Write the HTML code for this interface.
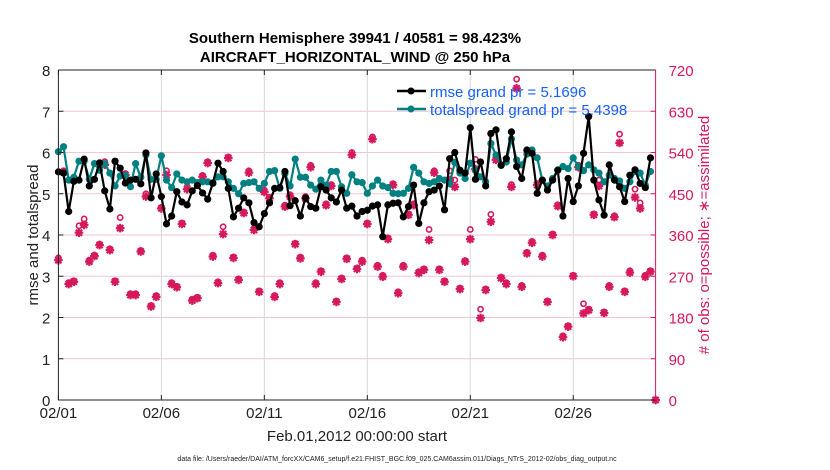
<!DOCTYPE html>
<html><head><meta charset="utf-8">
<style>
html,body{margin:0;padding:0;background:#fff;}
svg{display:block;font-family:"Liberation Sans",sans-serif;}
</style></head>
<body>
<svg id="chart" width="830" height="470" viewBox="0 0 830 470" xmlns="http://www.w3.org/2000/svg">
  <rect x="0" y="0" width="830" height="470" fill="#fff"/>
  <text x="355" y="43" text-anchor="middle" font-size="15" font-weight="bold">Southern Hemisphere 39941 / 40581 = 98.423%</text>
  <text x="355" y="62" text-anchor="middle" font-size="15" font-weight="bold">AIRCRAFT_HORIZONTAL_WIND @ 250 hPa</text>
  <g id="grid"></g>
  <g id="obs"></g>
  <g id="lines"></g>
  <g id="axes"></g>
  <text transform="translate(38,235) rotate(-90)" text-anchor="middle" font-size="15" fill="#222">rmse and totalspread</text>
  <text transform="translate(709,235) rotate(-90)" text-anchor="middle" font-size="15" fill="#d6185c"># of obs: o=possible; ∗=assimilated</text>
  <text x="357" y="441" text-anchor="middle" font-size="15" fill="#222">Feb.01,2012 00:00:00 start</text>
  <text x="397" y="461" text-anchor="middle" font-size="7" fill="#222">data file: /Users/raeder/DAI/ATM_forcXX/CAM6_setup/f.e21.FHIST_BGC.f09_025.CAM6assim.011/Diags_NTrS_2012-02/obs_diag_output.nc</text>
  <g>
    <line x1="397" y1="91" x2="426" y2="91" stroke="#000" stroke-width="2.5"/>
    <circle cx="411" cy="91" r="3.5" fill="#000"/>
    <text x="430" y="97" font-size="15" fill="#1560ff">rmse grand pr = 5.1696</text>
    <line x1="397" y1="109" x2="426" y2="109" stroke="#008080" stroke-width="2.5"/>
    <circle cx="411" cy="109" r="3.5" fill="#008080"/>
    <text x="430" y="115" font-size="15" fill="#1560ff">totalspread grand pr = 5.4398</text>
  </g>
</svg>
<script>
const rmse = [5.53,5.5,4.57,5.3,5.33,5.84,5.19,5.35,5.75,5.07,4.63,5.79,5.62,5.26,5.33,5.35,5.24,5.99,4.9,5.48,4.93,4.27,4.46,5.05,4.8,4.73,5.07,5.2,5.02,4.87,5.26,
5.74,5.54,5.13,4.44,4.65,4.9,4.78,4.3,4.2,4.52,4.78,5.13,5.15,5.54,4.71,4.83,4.46,4.9,4.69,4.65,5.17,5.09,4.9,4.8,5.09,4.65,4.7,4.46,4.57,
4.6,4.7,4.73,3.96,4.73,4.77,4.78,4.44,4.69,5.21,4.28,4.78,5.05,5.09,5.19,4.61,5.85,6.0,5.57,5.5,6.6,5.35,5.77,5.19,6.46,6.55,5.69,5.85,6.5,
5.66,5.37,6.06,5.98,5.01,5.33,5.09,5.33,5.57,4.46,5.37,4.81,5.19,5.98,6.87,5.33,4.85,4.48,5.7,5.33,5.17,4.81,5.45,5.58,5.25,5.15,5.87];
const spread = [6.02,6.14,5.33,5.4,5.79,5.79,5.35,5.73,5.57,5.73,5.5,5.19,5.43,5.45,5.17,5.73,5.4,5.94,5.35,5.35,5.92,5.33,5.15,5.48,5.33,5.29,5.33,5.27,5.29,5.29,5.25,
5.41,5.41,5.29,5.13,5.0,5.25,5.27,5.29,5.13,5.25,5.54,5.56,5.13,5.49,5.19,5.84,5.4,5.4,5.21,5.11,5.33,5.21,5.54,5.54,5.17,5.01,5.46,5.29,5.27,
5.01,5.19,5.33,5.19,5.15,5.01,5.0,5.01,5.13,5.64,5.5,5.29,5.25,5.29,5.37,5.33,5.24,5.76,5.5,5.37,5.74,5.57,5.41,5.29,6.22,5.94,5.69,5.77,6.33,
5.82,5.7,5.96,6.06,5.87,5.33,5.19,5.37,5.58,5.66,5.61,5.87,5.66,5.56,5.7,5.58,5.5,5.29,5.45,5.37,5.31,5.13,5.29,5.54,5.5,5.21,5.54];
const assimilated = [305,497,253,258,365,382,302,314,338,513,327,258,375,491,229,229,324,444,204,225,418,491,253,246,384,460,217,222,487,517,313,
255,362,528,310,262,408,496,371,236,454,440,225,253,422,444,340,309,440,508,253,280,425,467,214,264,308,535,286,302,
384,569,291,269,351,469,233,291,404,425,277,284,349,496,284,258,480,465,242,302,351,504,179,240,389,524,266,253,465,
680,247,320,343,469,313,214,360,423,137,160,270,508,189,196,404,467,190,247,399,561,236,278,442,418,269,280,0];
const possible = [310,500,256,260,380,395,305,316,340,520,330,260,398,494,232,232,326,450,206,228,420,500,256,248,386,465,220,224,490,520,316,
258,378,530,312,264,410,500,374,238,458,442,228,256,425,448,342,312,444,512,256,282,428,470,216,266,310,540,288,305,
386,574,294,272,354,472,236,294,406,428,280,286,372,500,286,260,500,480,244,304,372,525,198,242,405,528,268,256,470,
700,250,322,346,472,316,216,362,426,140,162,272,512,210,198,406,480,192,250,402,580,238,282,460,430,272,282,0];
const xTickLabels = ["02/01","02/06","02/11","02/16","02/21","02/26"];
const xTickDays = [0,5,10,15,20,25];
const yTickLabels = ["0","1","2","3","4","5","6","7","8"];
const y2TickLabels = ["0","90","180","270","360","450","540","630","720"];

const NS = "http://www.w3.org/2000/svg";
const L = 58.4, R = 655.6, T = 70, B = 400;
const dayW = (R - L) / 29;
const xDay = d => L + d * dayW;
const xIdx = i => xDay(i / 4);
const yL = v => B - (v / 8) * (B - T);
const yR = v => B - (v / 720) * (B - T);
const OBSC = "#d6185c";

function mk(tag, attrs, parent) {
  const e = document.createElementNS(NS, tag);
  for (const k in attrs) e.setAttribute(k, attrs[k]);
  parent.appendChild(e);
  return e;
}
const grid = document.getElementById("grid");
const axes = document.getElementById("axes");
const obsG = document.getElementById("obs");
const linesG = document.getElementById("lines");

for (let k = 0; k < yTickLabels.length; k++) {
  const y = yL(k);
  if (k > 0 && k < 8) {
    const g = mk("line", {x1: L, x2: R, y1: y, y2: y, stroke: "#f2c6d6", "stroke-width": 1}, grid);
    
    
  }
  const t1 = mk("line", {x1: L, x2: L + 5, y1: y, y2: y, stroke: "#222", "stroke-width": 1}, axes);
  
  
  const lb = mk("text", {x: L - 8, y: y + 6, "text-anchor": "end", "font-size": 15, fill: "#222"}, axes);
  lb.textContent = yTickLabels[k];
  
  
  const yr = yR(Number(y2TickLabels[k]));
  const t2 = mk("line", {x1: R - 5, x2: R, y1: yr, y2: yr, stroke: OBSC, "stroke-width": 1}, axes);
  
  
  const lr = mk("text", {x: R + 13, y: yr + 6, "font-size": 15, fill: OBSC}, axes);
  lr.textContent = y2TickLabels[k];
  
  
}
for (let k = 0; k < xTickDays.length; k++) {
  const x = xDay(xTickDays[k]);
  if (k > 0) {
    const g = mk("line", {x1: x, x2: x, y1: T, y2: B, stroke: "#d8d8d8", "stroke-width": 1}, grid);
    
    
  }
  const tb = mk("line", {x1: x, x2: x, y1: B, y2: B - 5, stroke: "#222"}, axes);
  
  
  const tt = mk("line", {x1: x, x2: x, y1: T, y2: T + 5, stroke: "#222"}, axes);
  
  
  const lb = mk("text", {x: x, y: 418, "text-anchor": "middle", "font-size": 15, fill: "#222"}, axes);
  lb.textContent = xTickLabels[k];
  
  
}
const fr1 = mk("path", {d: `M${L},${T} L${R},${T} M${L},${T} L${L},${B} L${R},${B}`, stroke: "#222", fill: "none", "stroke-width": 1}, axes);


const fr2 = mk("line", {x1: R, x2: R, y1: T, y2: B, stroke: OBSC, "stroke-width": 1}, axes);



for (let i = 0; i < assimilated.length; i++) {
  const x = xIdx(i);
  const c = mk("circle", {cx: x, cy: yR(possible[i]), r: 2.6, fill: "none", stroke: OBSC, "stroke-width": 1.6}, obsG);
  
  
  const y = yR(assimilated[i]);
  const a = 4.3, d = 3.1;
  const s = mk("path", {d: `M${x-a},${y}H${x+a}M${x},${y-a}V${y+a}M${x-d},${y-d}L${x+d},${y+d}M${x-d},${y+d}L${x+d},${y-d}`, stroke: OBSC, "stroke-width": 2.2, fill: "none"}, obsG);
  
  
}

function series(vals, color, name) {
  const pts = vals.map((v, i) => `${xIdx(i).toFixed(1)},${yL(v).toFixed(1)}`).join(" ");
  const pl = mk("polyline", {points: pts, fill: "none", stroke: color, "stroke-width": 2.2, "stroke-linejoin": "round"}, linesG);
  
  
  vals.forEach((v, i) => {
    const c = mk("circle", {cx: xIdx(i), cy: yL(v), r: 3.6, fill: color}, linesG);
    
    
  });
}
series(spread, "#008080", "totalspread");
series(rmse, "#000000", "rmse");
</script>
</body></html>
